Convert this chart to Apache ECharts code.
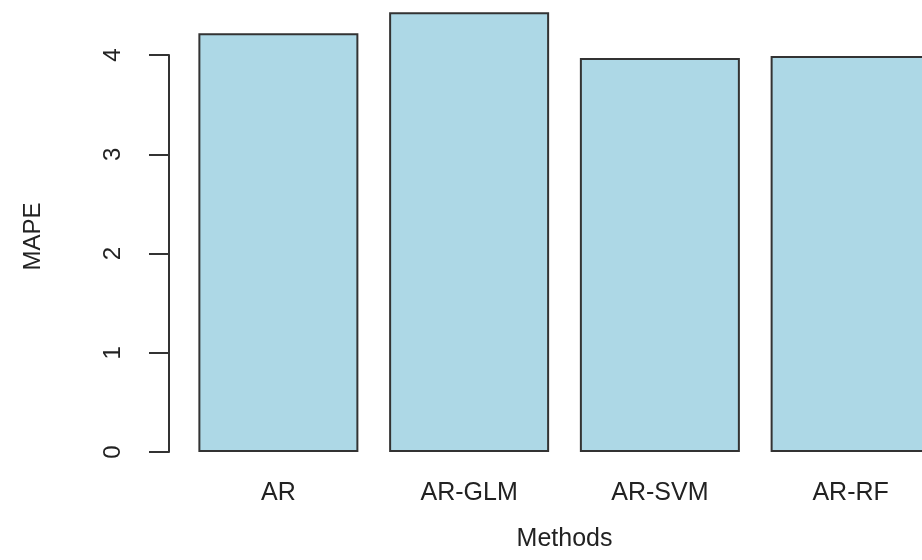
<!DOCTYPE html>
<html>
<head>
<meta charset="utf-8">
<script src="https://cdn.jsdelivr.net/npm/echarts@6/dist/echarts.min.js"></script>
<style>
  html, body { margin: 0; padding: 0; background: #fff; overflow: hidden; }
  /* the last bar runs past the right edge in the original, so the chart is wider than the page */
  #chart { width: 946px; height: 560px; }
</style>
</head>
<body>
<div id="chart"></div>
<script>
// methods on the x axis and their MAPE values
const methods = ['AR', 'AR-GLM', 'AR-SVM', 'AR-RF'];
const mape = [4.22, 4.43, 3.97, 3.99];
const yTicks = [0, 1, 2, 3, 4];

const textColor = '#222';
const font = 'Liberation Sans, Arial, sans-serif';

const chart = echarts.init(document.getElementById('chart'));
chart.setOption({
  animation: false,
  backgroundColor: '#fff',
  grid: {
    left: 183,
    right: 0,
    top: 55,
    bottom: 108
  },
  xAxis: {
    type: 'category',
    data: methods,
    name: 'Methods',
    nameLocation: 'middle',
    nameGap: 75,
    nameTextStyle: { color: textColor, fontSize: 25, fontFamily: font },
    axisLine: { show: false },
    axisTick: { show: false },
    axisLabel: { color: textColor, fontSize: 25, fontFamily: font, margin: 29 }
  },
  yAxis: {
    type: 'value',
    min: yTicks[0],
    max: yTicks[yTicks.length - 1],
    interval: 1,
    offset: 14,
    name: 'MAPE',
    nameLocation: 'middle',
    nameGap: 124,
    nameTextStyle: { color: textColor, fontSize: 24, fontFamily: font, padding: [0, 0, 0, 34] },
    splitLine: { show: false },
    axisLine: { show: true, lineStyle: { color: '#333', width: 2 } },
    axisTick: { show: true, length: 20, lineStyle: { color: '#333', width: 2 } },
    axisLabel: { color: textColor, fontSize: 24, fontFamily: font, rotate: 90, margin: 44 }
  },
  series: [{
    type: 'bar',
    data: mape,
    barWidth: 160,
    clip: false,
    itemStyle: { color: '#add8e6', borderColor: '#333', borderWidth: 2 }
  }]
});
</script>
</body>
</html>
